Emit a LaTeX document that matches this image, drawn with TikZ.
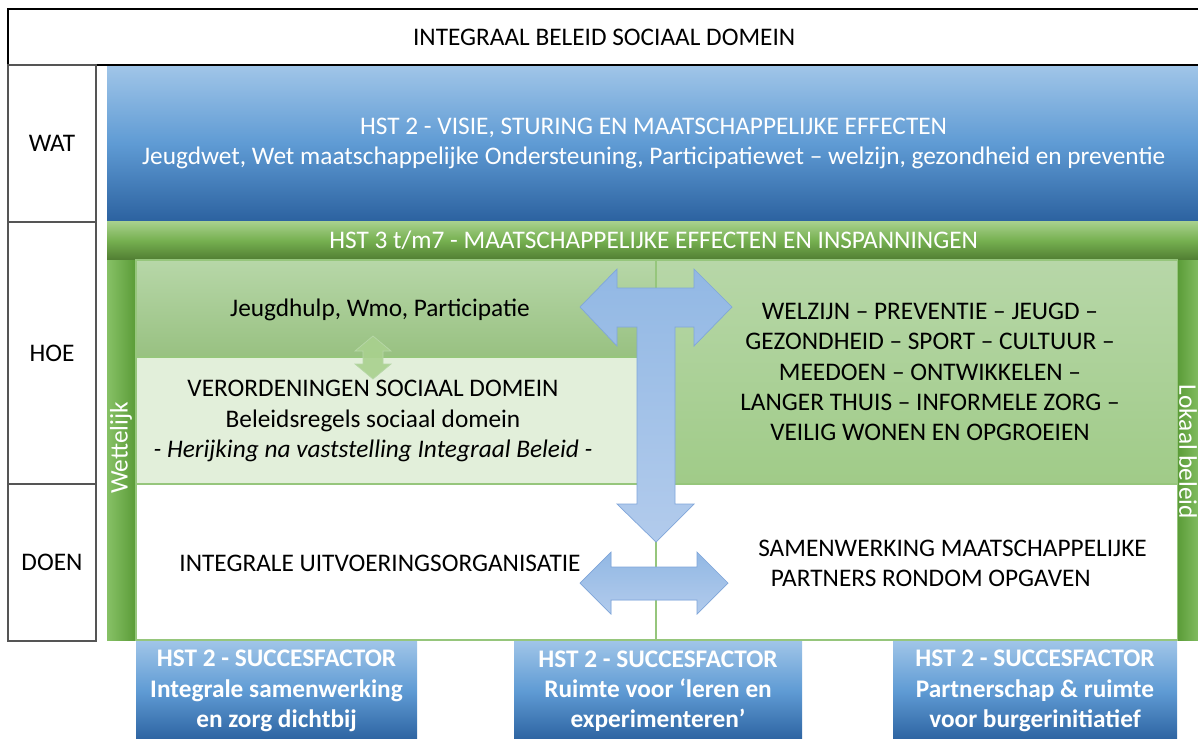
\documentclass[tikz,border=0pt]{standalone}
\usepackage{fontspec}
\setmainfont{Carlito}
\definecolor{sdblue}    {RGB}{44,98,160}
\definecolor{sdbluemid} {RGB}{95,155,212}
\definecolor{sdbluelt}  {RGB}{160,197,232}
\definecolor{sdgreen}   {RGB}{80,125,50}
\definecolor{sdgreenmid}{RGB}{118,176,80}
\definecolor{sdgreenlt} {RGB}{169,209,142}
\definecolor{sdbarlt}   {RGB}{135,193,102}
\definecolor{sdbardk}   {RGB}{90,155,55}
\definecolor{sdmosslt}  {RGB}{183,215,168}
\definecolor{sdmoss}    {RGB}{160,203,136}
\definecolor{sdpale}    {RGB}{226,239,218}
\definecolor{sdline}    {RGB}{150,198,124}
\definecolor{sdarrow}   {RGB}{146,184,228}
\definecolor{sdarrowlt} {RGB}{178,203,236}
\definecolor{sdarrowln} {RGB}{128,166,218}
\definecolor{sdgray}    {RGB}{85,85,85}
\usepackage{tikz}
\usetikzlibrary{positioning,calc}
\tikzset{
  txt/.style={align=center, inner sep=0pt},
  band/.style={rectangle, anchor=north west, inner sep=0pt, outer sep=0pt,
               text=white, align=center},
  vlak/.style={rectangle, anchor=north west, inner sep=0pt, outer sep=0pt,
               draw=sdline, line width=0.8pt},
}

\begin{document}
\begin{tikzpicture}[x=0.025cm, y=-0.025cm,
  every node/.style={font=\fontsize{18}{21.5}\selectfont},
  lbl/.style={rectangle, anchor=north west, inner sep=0pt, outer sep=0pt, draw=sdgray,
              line width=1pt, minimum width=2.2cm},
  sfbox/.style={band, top color=sdbluelt, bottom color=sdblue, middle color=sdbluemid,
                minimum height=2.5cm, font=\fontsize{18}{21.5}\selectfont\bfseries},
  blokpijl/.style={top color=sdarrow, bottom color=sdarrowlt, draw=sdarrowln, line width=0.5pt},
  groenpijl/.style={fill=sdgreenlt, fill opacity=0.9, draw=sdmosslt, line width=0.5pt}
]
  \useasboundingbox (0,0) rectangle (1198,738);

  % Kop
  \node[rectangle, anchor=north west, inner sep=0pt, outer sep=0pt, draw=black, line width=1pt,
        minimum width=29.8cm, minimum height=1.4cm] (kop) at (8,9)
    {INTEGRAAL BELEID SOCIAAL DOMEIN};

  % Linker kolom
  \node[lbl, minimum height=3.925cm] (wat) at (kop.south west) {WAT};
  \node[lbl, minimum height=6.55cm] (hoe) at (wat.south west) {HOE};
  \node[lbl, minimum height=3.925cm] (doen) at (hoe.south west) {DOEN};

  % Blauwe en groene band
  \node[band, minimum width=27.325cm, minimum height=3.875cm,
        top color=sdbluelt, bottom color=sdblue, middle color=sdbluemid] (visie) at (107,66)
    {HST 2 - VISIE, STURING EN MAATSCHAPPELIJKE EFFECTEN\\
     Jeugdwet, Wet maatschappelijke Ondersteuning, Participatiewet – welzijn, gezondheid en preventie};
  \node[band, minimum width=27.325cm, minimum height=0.975cm,
        top color=sdgreenlt, bottom color=sdgreen, middle color=sdgreenmid] (hst) at (visie.south west)
    {HST 3 t/m7 - MAATSCHAPPELIJKE EFFECTEN EN INSPANNINGEN};

  % Zijbalken
  \node[band, minimum width=0.725cm, minimum height=9.5cm,
        left color=sdbarlt, right color=sdbardk] (wet) at (hst.south west) {};
  \node[band, minimum width=0.625cm, minimum height=9.5cm,
        left color=sdbardk, right color=sdbarlt] (lok) at (1177,260) {};
  \node[text=white, rotate=90] (wettxt) at (121,448) {Wettelijk};
  \node[text=white, rotate=-90] (loktxt) at (1188,452) {Lokaal beleid};

  % Vlakken HOE / DOEN
  \node[vlak, minimum width=13cm, minimum height=2.425cm,
        top color=sdmosslt, bottom color=sdmoss!95!black] (jeugd) at (136,260) {};
  \node[vlak, minimum width=13.025cm, minimum height=5.6cm,
        top color=sdmosslt, bottom color=sdmoss] (thema) at (656,260) {};
  \node[vlak, minimum width=13cm, minimum height=3.175cm, fill=sdpale] (verord) at (136,357) {};
  \node[vlak, minimum width=26.025cm, minimum height=3.9cm, fill=white] (uitvoer) at (136,484) {};

  % Succesfactoren
  \foreach \nm/\xx/\ww/\txt in {sfa/136/7.025/{Integrale samenwerking\\en zorg dichtbij},
                                sfb/514/7.2/{Ruimte voor ‘leren en\\experimenteren’},
                                sfc/893/7.1/{Partnerschap \& ruimte\\voor burgerinitiatief}} {
    \node[sfbox, minimum width=\ww cm] (\nm) at (\xx,641) {HST 2 - SUCCESFACTOR\\\txt};
  }

  % Pijlen
  \coordinate (tpunt) at (656,542);
  \draw[sdline, line width=0.8pt] (tpunt) -- (tpunt |- uitvoer.south);
  \shadedraw[blokpijl] (580,307) -- (617,269) -- (617,288) -- (694,288) -- (694,269)
    -- (732,307) -- (694,346) -- (694,327) -- (675,327) -- (675,504) -- (694,504)
    -- (tpunt) -- (617,504) -- (637,504) -- (637,327) -- (617,327) -- (617,346) -- cycle;
  \filldraw[blokpijl, fill=sdarrow!85!white] (580,583) -- (611,552) -- (611,567) -- (697,567)
    -- (697,552) -- (728,583) -- (697,614) -- (697,600) -- (611,600) -- (611,614) -- cycle;
  \filldraw[groenpijl] (373,336) -- (391,351) -- (383,351) -- (383,364) -- (391,364)
    -- (373,379) -- (355,364) -- (363,364) -- (363,351) -- (355,351) -- cycle;

  % Teksten
  \node[txt] (jeugdtxt) at (380,310) {Jeugdhulp, Wmo, Participatie};
  \node[txt] (verordtxt) at (373,421)
    {VERORDENINGEN SOCIAAL DOMEIN\\Beleidsregels sociaal domein\\
     \textit{- Herijking na vaststelling Integraal Beleid -}};
  \node[txt] (thematxt) at (930,372)
    {WELZIJN – PREVENTIE – JEUGD –\\GEZONDHEID – SPORT – CULTUUR –\\
     MEEDOEN – ONTWIKKELEN –\\LANGER THUIS – INFORMELE ZORG –\\VEILIG WONEN EN OPGROEIEN};
  \node[txt] (uitvtxt) at (380,563) {INTEGRALE UITVOERINGSORGANISATIE};
  \node[txt, align=left, anchor=west] (samentxt) at (758,563)
    {SAMENWERKING MAATSCHAPPELIJKE\\\hspace*{0.5em}PARTNERS RONDOM OPGAVEN};

\end{tikzpicture}
\end{document}
